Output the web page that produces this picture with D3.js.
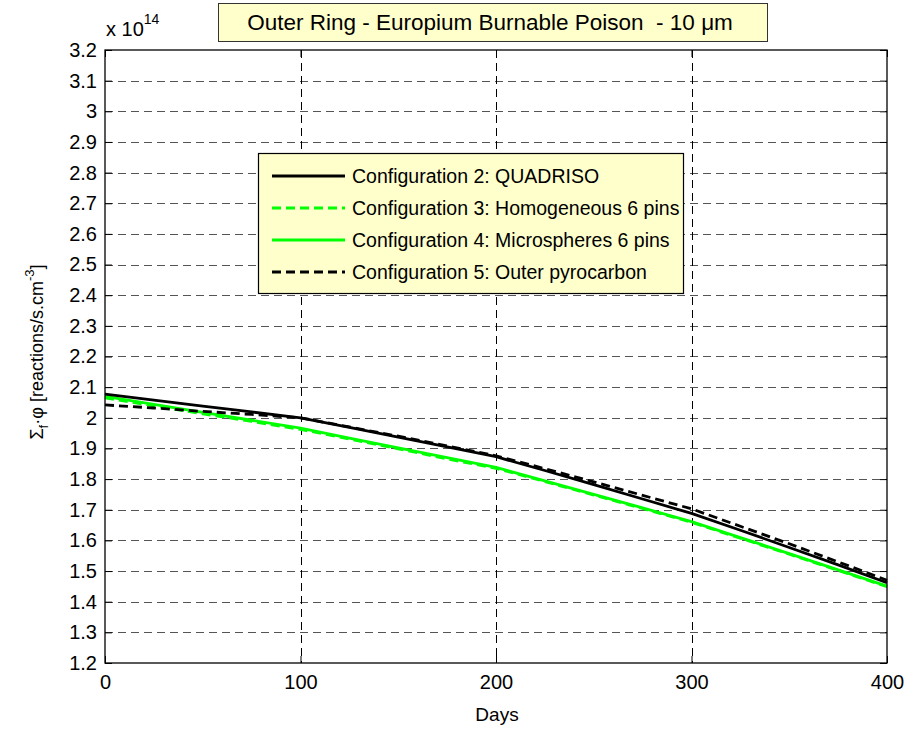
<!DOCTYPE html>
<html>
<head>
<meta charset="utf-8">
<script src="https://cdn.jsdelivr.net/npm/d3@7"></script>
<style>
  body { margin: 0; background: #fff; }
  text { font-family: "Liberation Sans", Arial, sans-serif; fill: #000; }
</style>
</head>
<body>
<div class="chart"></div>
<script>
// days of burnup
var days = [0, 25, 50, 75, 100, 125, 150, 175, 200, 225, 250, 275, 300, 325, 350, 375, 400];

// values x 1e14
var quadriso   = [2.077, 2.058, 2.038, 2.019, 2.000, 1.969, 1.937, 1.905, 1.873, 1.828, 1.782, 1.735, 1.688, 1.633, 1.577, 1.520, 1.462];
var homog6     = [2.065, 2.039, 2.013, 1.988, 1.962, 1.931, 1.899, 1.866, 1.835, 1.792, 1.748, 1.704, 1.659, 1.607, 1.555, 1.502, 1.449];
var micro6     = [2.070, 2.044, 2.018, 1.992, 1.966, 1.934, 1.902, 1.870, 1.838, 1.794, 1.750, 1.706, 1.661, 1.609, 1.557, 1.504, 1.451];
var outerPyro  = [2.042, 2.032, 2.021, 2.011, 2.000, 1.970, 1.940, 1.908, 1.876, 1.834, 1.791, 1.747, 1.703, 1.646, 1.589, 1.530, 1.470];

var xTicks = [0, 100, 200, 300, 400];
var yTicks = d3.range(12, 33).map(function(d) { return d / 10; });

var series = [
  {name: "Configuration 2: QUADRISO", values: quadriso, color: "#000", dash: null},
  {name: "Configuration 3: Homogeneous 6 pins", values: homog6, color: "#00ff00", dash: "9,5"},
  {name: "Configuration 4: Microspheres 6 pins", values: micro6, color: "#00ff00", dash: null},
  {name: "Configuration 5: Outer pyrocarbon", values: outerPyro, color: "#000", dash: "9,5"}
];
// draw order: green under black
var drawOrder = [2, 1, 0, 3];

var width = 911, height = 729;
var pL = 105, pR = 887, pT = 50, pB = 663;

var svg = d3.select(".chart").append("svg")
  .attr("width", width)
  .attr("height", height);

var x = d3.scaleLinear().domain([0, 400]).range([pL, pR]);
var y = d3.scaleLinear().domain([1.2, 3.2]).range([pB, pT]);

// grid
svg.append("g").selectAll("line")
  .data(yTicks.slice(1, -1))
  .enter().append("line")
  .attr("x1", pL).attr("x2", pR)
  .attr("y1", function(d) { return Math.round(y(d)) + 0.5; })
  .attr("y2", function(d) { return Math.round(y(d)) + 0.5; })
  .style("stroke", "#555")
  .style("stroke-width", 1)
  .style("stroke-dasharray", "8,5");

svg.append("g").selectAll("line")
  .data(xTicks.slice(1, -1))
  .enter().append("line")
  .attr("x1", function(d) { return Math.round(x(d)) + 0.5; })
  .attr("x2", function(d) { return Math.round(x(d)) + 0.5; })
  .attr("y1", pT).attr("y2", pB)
  .style("stroke", "#000")
  .style("stroke-width", 1)
  .style("stroke-dasharray", "8,5");

// axes
var yAxisL = d3.axisLeft(y).tickValues(yTicks).tickSizeInner(-7).tickSizeOuter(0).tickPadding(8)
  .tickFormat(function(d) { return d3.format("")(+d.toFixed(1)); });
var yAxisR = d3.axisRight(y).tickValues(yTicks).tickSizeInner(-7).tickSizeOuter(0).tickFormat("");
var xAxisB = d3.axisBottom(x).tickValues(xTicks).tickSizeInner(-7).tickSizeOuter(0).tickPadding(12);
var xAxisT = d3.axisTop(x).tickValues(xTicks).tickSizeInner(-7).tickSizeOuter(0).tickFormat("");

function styleAxis(g) {
  g.select(".domain").remove();
  g.selectAll("line").style("stroke", "#000");
  g.selectAll("text").style("font-size", "20px").style("font-family", "Liberation Sans, Arial, sans-serif");
}
svg.append("g").attr("transform", "translate(" + pL + ",0)").call(yAxisL).call(styleAxis);
svg.append("g").attr("transform", "translate(" + pR + ",0)").call(yAxisR).call(styleAxis);
svg.append("g").attr("transform", "translate(0," + pB + ")").call(xAxisB).call(styleAxis);
svg.append("g").attr("transform", "translate(0," + pT + ")").call(xAxisT).call(styleAxis);

// lines
var line = d3.line()
  .x(function(d, i) { return x(days[i]); })
  .y(function(d) { return y(d); });

drawOrder.forEach(function(k) {
  var s = series[k];
  svg.append("path")
    .attr("d", line(s.values))
    .style("fill", "none")
    .style("stroke", s.color)
    .style("stroke-width", 2.8)
    .style("stroke-dasharray", s.dash);
});

// plot box
svg.append("rect")
  .attr("x", pL).attr("y", pT)
  .attr("width", pR - pL).attr("height", pB - pT)
  .style("fill", "none").style("stroke", "#000").style("stroke-width", 1.3);

// exponent
var expo = svg.append("text").attr("x", 106).attr("y", 36).style("font-size", "20px");
expo.append("tspan").text("x 10");
expo.append("tspan").attr("dy", -12).style("font-size", "14px").text("14");

// title box
svg.append("rect")
  .attr("x", 218.5).attr("y", 3.5).attr("width", 549).attr("height", 38)
  .style("fill", "#ffffcc").style("stroke", "#333").style("stroke-width", 1);
var title = svg.append("text").attr("x", 490).attr("y", 30)
  .attr("text-anchor", "middle").style("font-size", "22.5px")
  .attr("xml:space", "preserve");
title.append("tspan").text("Outer Ring - Europium Burnable Poison  - 10 ");
title.append("tspan").text("\u03bcm");

// axis labels
svg.append("text").attr("x", 497).attr("y", 721)
  .attr("text-anchor", "middle").style("font-size", "19px").text("Days");

var yl = svg.append("text")
  .attr("transform", "translate(43,352) rotate(-90)")
  .attr("text-anchor", "middle").style("font-size", "18px");
yl.append("tspan").text("\u03a3");
yl.append("tspan").attr("dy", 5).style("font-size", "13px").text("f");
yl.append("tspan").attr("dy", -5).text("\u00b7\u03c6 [reactions/s.cm");
yl.append("tspan").attr("dy", -9).style("font-size", "13px").text("-3");
yl.append("tspan").attr("dy", 9).text("]");

// legend
var legend = svg.append("g");
legend.append("rect")
  .attr("x", 258.5).attr("y", 153.5).attr("width", 425).attr("height", 140)
  .style("fill", "#ffffcc").style("stroke", "#000").style("stroke-width", 1.2);

var legendY = [176, 208, 240, 272];
series.forEach(function(s, i) {
  legend.append("line")
    .attr("x1", 272).attr("x2", 345)
    .attr("y1", legendY[i]).attr("y2", legendY[i])
    .style("stroke", s.color)
    .style("stroke-width", 2.8)
    .style("stroke-dasharray", s.dash);
  legend.append("text")
    .attr("x", 352).attr("y", legendY[i] + 7)
    .style("font-size", "19.5px")
    .text(s.name);
});
</script>
</body>
</html>
